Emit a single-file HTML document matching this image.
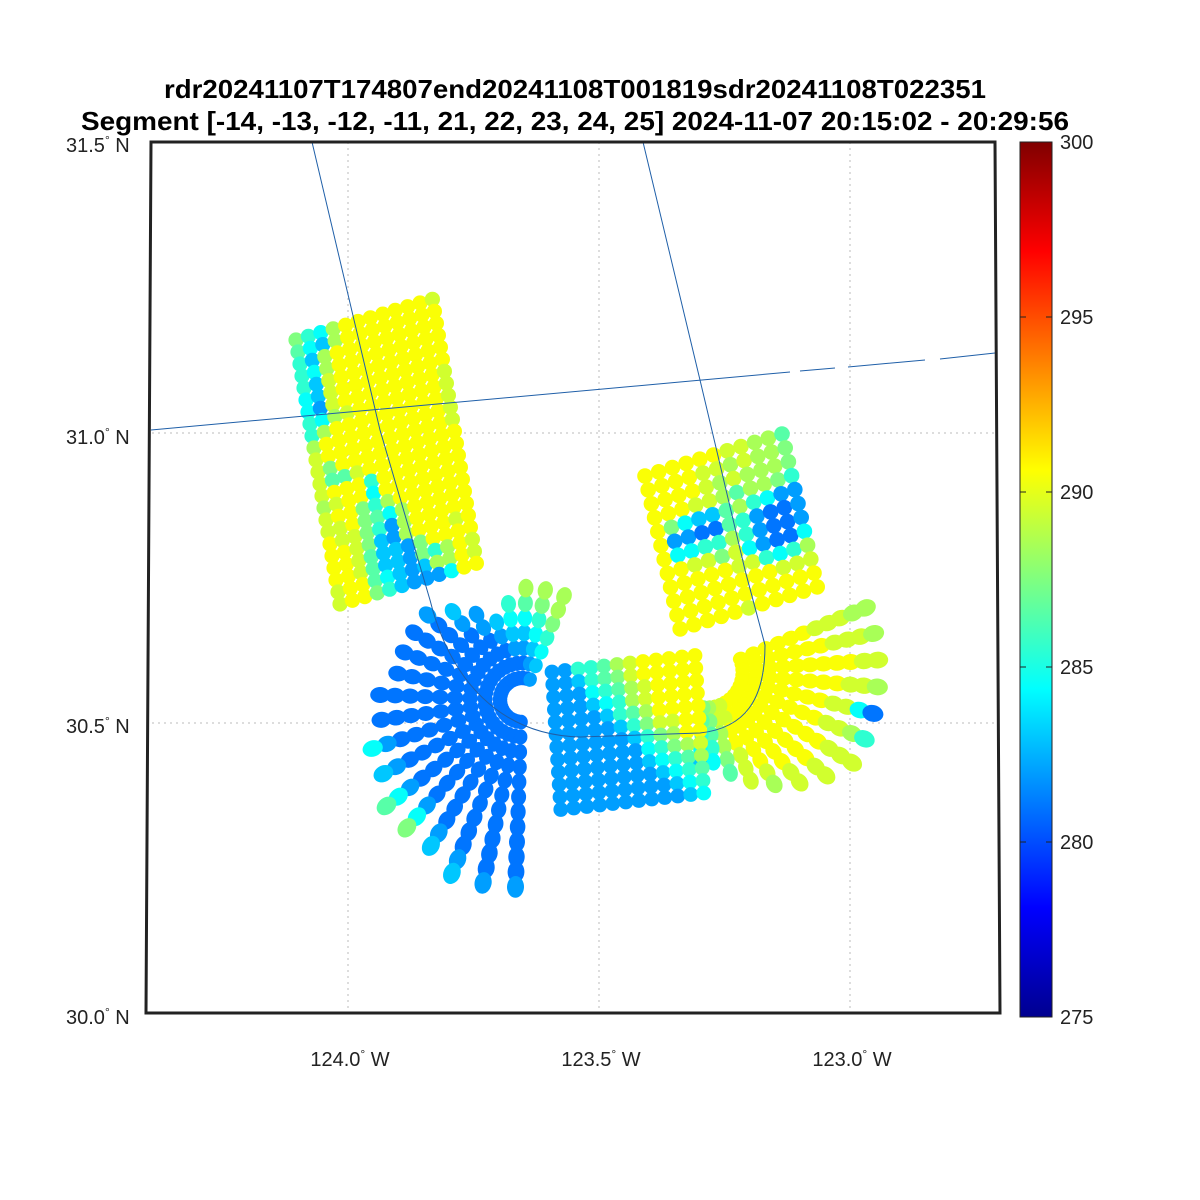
<!DOCTYPE html>
<html><head><meta charset="utf-8"><style>
html,body{margin:0;padding:0;background:#fff;}
svg{display:block;font-family:"Liberation Sans",Arial,sans-serif;}
</style></head><body>
<svg id="chart" width="1200" height="1200" viewBox="0 0 1200 1200" xmlns="http://www.w3.org/2000/svg">
<defs>
<linearGradient id="jet" x1="0" y1="1" x2="0" y2="0">
<stop offset="0" stop-color="#00008f"/><stop offset="0.125" stop-color="#0000ff"/><stop offset="0.375" stop-color="#00ffff"/><stop offset="0.625" stop-color="#ffff00"/><stop offset="0.875" stop-color="#ff0000"/><stop offset="1" stop-color="#800000"/>
</linearGradient>
<clipPath id="mapclip"><polygon points="151,142 995,142 1000,1013 146,1013"/></clipPath>
</defs>
<text x="575" y="98" font-size="26" font-weight="bold" text-anchor="middle" textLength="822" lengthAdjust="spacingAndGlyphs">rdr20241107T174807end20241108T001819sdr20241108T022351</text>
<text x="575" y="130" font-size="26" font-weight="bold" text-anchor="middle" textLength="988" lengthAdjust="spacingAndGlyphs">Segment [-14, -13, -12, -11, 21, 22, 23, 24, 25] 2024-11-07 20:15:02 - 20:29:56</text>
<g id="grid" stroke="#bbb" stroke-width="1" stroke-dasharray="2,4" clip-path="url(#mapclip)">
<line x1="348" y1="142" x2="348" y2="1013"/><line x1="599" y1="142" x2="599" y2="1013"/><line x1="850" y1="142" x2="850" y2="1013"/>
<line x1="146" y1="433" x2="1000" y2="433"/><line x1="146" y1="723" x2="1000" y2="723"/>
</g>
<g id="dots" clip-path="url(#mapclip)"></g>
<g fill="none" stroke="#1f5fa8" stroke-width="1" clip-path="url(#mapclip)">
<path d="M312,142 L380,430 L430,600 C450,680 500,735 580,737 L700,733 C745,728 765,700 765,645 L745,570 L700,380 L643,142"/>
<path d="M151,430 L790,372 M800,371 L835,368 M848,367 L925,360 M940,359 L995,353"/>
</g>
<polygon points="151,142 995,142 1000,1013 146,1013" fill="none" stroke="#222" stroke-width="3"/>
<g font-size="20" fill="#222">
<text x="66" y="152">31.5<tspan font-size="12" dy="-8">°</tspan><tspan dy="8"> N</tspan></text>
<text x="66" y="444">31.0<tspan font-size="12" dy="-8">°</tspan><tspan dy="8"> N</tspan></text>
<text x="66" y="733">30.5<tspan font-size="12" dy="-8">°</tspan><tspan dy="8"> N</tspan></text>
<text x="66" y="1024">30.0<tspan font-size="12" dy="-8">°</tspan><tspan dy="8"> N</tspan></text>
</g>
<g font-size="20" fill="#222" text-anchor="middle">
<text x="350" y="1066">124.0<tspan font-size="12" dy="-8">°</tspan><tspan dy="8"> W</tspan></text>
<text x="601" y="1066">123.5<tspan font-size="12" dy="-8">°</tspan><tspan dy="8"> W</tspan></text>
<text x="852" y="1066">123.0<tspan font-size="12" dy="-8">°</tspan><tspan dy="8"> W</tspan></text>
</g>
<rect x="1020" y="142" width="32" height="875" fill="url(#jet)" stroke="#222" stroke-width="1"/>
<g id="cbticks" font-size="20" fill="#222"></g>
</svg>
<script>
const cbTicks=[300,295,290,285,280,275];
const tMin=275, tMax=300;
// temperature codes per character
const codeTemps={'0':281,'1':282,'2':283,'3':284.5,'4':285.5,'5':286.5,'6':287.5,'7':288.5,'8':289.5,'9':290.5};
// upper-left rectangular swath (rows top->bottom, cols left->right)
const blockA=["643799999998","532799999999","427999999999","437999999999","428999999999","328999999999","318999999998","437899999998","479999999998","799999999998","899999999998","869999999999","855899999999","899949999999","789939999999","899647999999","889653799999","988641799999","998621799989","998522169999","998522164798","899532127798","899642111399"];
// upper-right rectangular swath
const blockB=["99999988775","99998878776","99998787776","99988757764","96322574311","91100541001","93344741001","99886831003","99999884347","99999999888","99999999999","99999899999"];
// lower middle rectangular swath
const blockC=["114457899999","112456899999","111345789999","111234789999","111124579999","111112468899","111111246799","111111134678","111111123457","111111112345","111111111234","111111111123"];
// left conical scan rays (inner->outer)
const fanLeft=["000000000001","000000000001","000000000012","00000000012","00000000136","00000000135","0000000012","0000000013","000000000","000000000","00000000","00000000","00000000","00000001","0000012","000011","00012","001234","0012357","0123467","1234677"];
// right conical scan rays (inner->outer)
const fanRight=["99999988877","99999998887","99999999988","99999999887","99999998830","99999998874","99999999888","9999999988","999999988","99999987","8899888","887765","76543","65432"];

const NS='http://www.w3.org/2000/svg';
function jet(v){let t=(v-tMin)/(tMax-tMin);const c=x=>Math.round(255*Math.max(0,Math.min(1,x)));return `rgb(${c(1.5-Math.abs(4*t-3))},${c(1.5-Math.abs(4*t-2))},${c(1.5-Math.abs(4*t-1))})`;}
const g=document.getElementById('dots');
function dot(x,y,rx,ry,ang,code){
  const e=document.createElementNS(NS,'ellipse');
  
  
  e.setAttribute('cx',x.toFixed(1));e.setAttribute('cy',y.toFixed(1));
  e.setAttribute('rx',rx.toFixed(1));e.setAttribute('ry',ry.toFixed(1));
  e.setAttribute('transform',`rotate(${ang.toFixed(1)} ${x.toFixed(1)} ${y.toFixed(1)})`);
  e.setAttribute('fill',jet(codeTemps[code]));
  g.appendChild(e);
}
function drawBlock(rows,ox,oy,cx,cy,rx,ry,r){
  rows.forEach((row,i)=>{[...row].forEach((ch,j)=>{dot(ox+j*cx+i*rx,oy+j*cy+i*ry,r,r,0,ch);});});
}
function drawFan(rays,cx,cy,a0,da,r0,dr){
  rays.forEach((ray,k)=>{const a=(a0+k*da)*Math.PI/180;
    [...ray].forEach((ch,i)=>{const rr=r0+i*dr;
      dot(cx+rr*Math.cos(a),cy+rr*Math.sin(a),6.8+rr*0.022,6.3+rr*0.012,a0+k*da,ch);});});
}
drawFan(fanLeft,522,700,92,10,22,15);
drawFan(fanRight,707,672,-22,9,36,13.5);
drawBlock(blockC,552,672,13,-1.5,0.8,12.5,7.4);
drawBlock(blockA,296,340,12.4,-3.7,2.0,12.0,7.6);
drawBlock(blockB,645,476,13.7,-4.2,3.2,13.9,7.8);

const tg=document.getElementById('cbticks');
cbTicks.forEach(v=>{const y=142+(tMax-v)/(tMax-tMin)*875;
  const t=document.createElementNS(NS,'text');
  
  
  t.setAttribute('x',1060);t.setAttribute('y',(y+7).toFixed(1));t.textContent=v;tg.appendChild(t);
  [1020,1046].forEach(x=>{const l=document.createElementNS(NS,'line');
    
    
    l.setAttribute('x1',x);l.setAttribute('x2',x+6);l.setAttribute('y1',y);l.setAttribute('y2',y);l.setAttribute('stroke','#222');tg.appendChild(l);});
});
</script>
</body></html>
